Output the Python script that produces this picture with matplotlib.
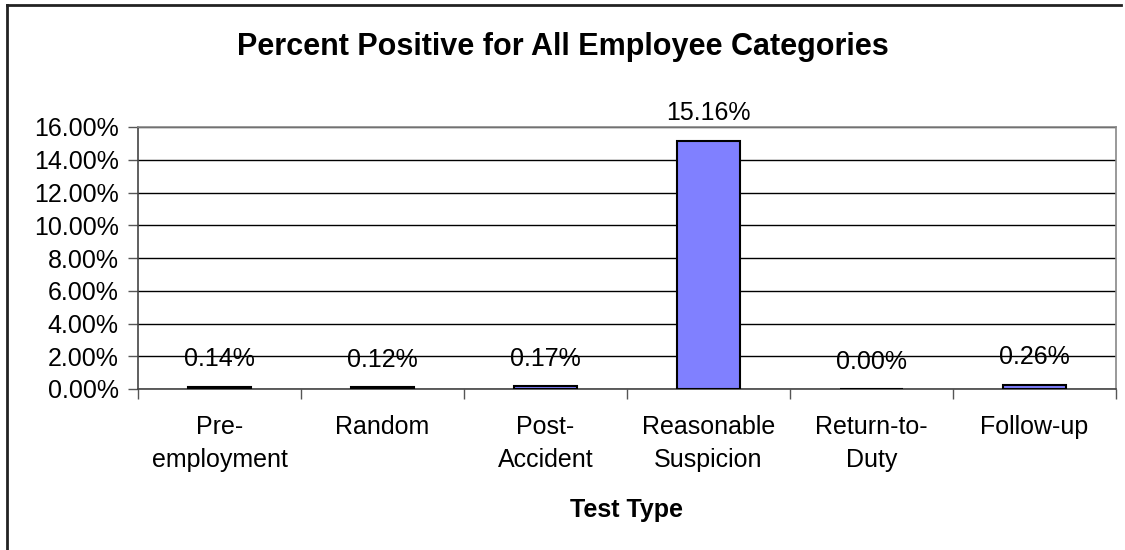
import numpy as np
import matplotlib.pyplot as plt
from matplotlib.ticker import PercentFormatter, FixedLocator, NullFormatter
from matplotlib.lines import Line2D

plt.rcParams['font.family'] = ['Liberation Sans', 'DejaVu Sans']

# data
categories = ["Pre-\nemployment", "Random", "Post-\nAccident",
              "Reasonable\nSuspicion", "Return-to-\nDuty", "Follow-up"]
percent_positive = [0.0014, 0.0012, 0.0017, 0.1516, 0.0000, 0.0026]
value_labels = ["0.14%", "0.12%", "0.17%", "15.16%", "0.00%", "0.26%"]

W, H = 1125, 550
fig = plt.figure(figsize=(W / 100, H / 100), dpi=100)
ax = fig.add_axes([138 / W, 1 - 389 / H, (1116 - 138) / W, (389 - 127) / H])

x = np.arange(len(categories))
ax.bar(x, percent_positive, width=0.39, color="#8080FF",
       edgecolor="black", linewidth=1.5, zorder=3)

for xi, v, lab in zip(x, percent_positive, value_labels):
    ax.annotate(lab, (xi, v), xytext=(0, 11), textcoords="offset points",
                ha="center", va="bottom", fontsize=18, zorder=4)

ax.set_xlim(-0.5, len(categories) - 0.5)
ax.set_ylim(0, 0.16)
ax.set_yticks(np.arange(0, 0.161, 0.02))
ax.yaxis.set_major_formatter(PercentFormatter(1.0, decimals=2))
ax.grid(axis="y", color="black", linewidth=1, zorder=0)

# category labels centred, ticks on the boundaries
ax.xaxis.set_major_locator(FixedLocator(np.arange(-0.5, len(categories), 1)))
ax.xaxis.set_major_formatter(NullFormatter())
ax.xaxis.set_minor_locator(FixedLocator(x))
ax.set_xticklabels(categories, minor=True)
ax.tick_params(axis="x", which="minor", length=0, pad=19, labelsize=18)
ax.tick_params(axis="x", which="major", length=7, width=1, color="#555555")
ax.tick_params(axis="y", length=7, width=1, labelsize=18, color="#555555", pad=7)
for t in ax.get_xticklabels(minor=True):
    t.set_linespacing(1.45)

for s in ax.spines.values():
    s.set_color("#888888")
    s.set_linewidth(1.2)
ax.spines["bottom"].set_color("#444444")
ax.spines["left"].set_color("#444444")

ax.set_xlabel("Test Type", fontsize=18, fontweight="bold", labelpad=19)
fig.suptitle("Percent Positive for All Employee Categories", x=0.5,
             y=1 - 32 / H, fontsize=22, fontweight="bold")

# chart frame (only top and left edges are visible in the original)
fig.add_artist(Line2D([7 / W, 7 / W], [0, 1 - 5 / H], transform=fig.transFigure,
                      color="#222222", linewidth=2))
fig.add_artist(Line2D([7 / W, 1121 / W], [1 - 5 / H, 1 - 5 / H], transform=fig.transFigure,
                      color="#222222", linewidth=2))

fig.savefig("out.png", dpi=100)
